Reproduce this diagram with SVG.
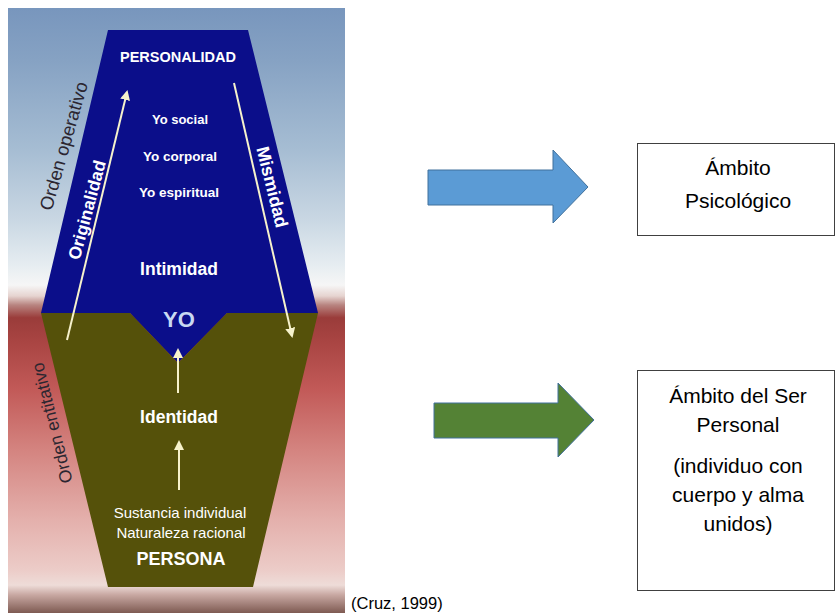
<svg xmlns="http://www.w3.org/2000/svg" width="838" height="613" viewBox="0 0 838 613">
<defs>
<linearGradient id="bg" x1="0" y1="8" x2="0" y2="613" gradientUnits="userSpaceOnUse">
<stop offset="0" stop-color="#7896bd"/>
<stop offset="0.086" stop-color="#86a2c3"/>
<stop offset="0.235" stop-color="#a6bdd3"/>
<stop offset="0.35" stop-color="#c9d7e3"/>
<stop offset="0.425" stop-color="#e6edf1"/>
<stop offset="0.458" stop-color="#f6f6f6"/>
<stop offset="0.476" stop-color="#e6d4d0"/>
<stop offset="0.491" stop-color="#b88480"/>
<stop offset="0.512" stop-color="#9a3c3a"/>
<stop offset="0.549" stop-color="#a84442"/>
<stop offset="0.631" stop-color="#c25a58"/>
<stop offset="0.731" stop-color="#d48480"/>
<stop offset="0.846" stop-color="#e4b0ac"/>
<stop offset="0.929" stop-color="#ecccc8"/>
<stop offset="0.954" stop-color="#eedcd8"/>
<stop offset="0.97" stop-color="#c8a8a2"/>
<stop offset="1" stop-color="#7e5a52"/>
</linearGradient>
<marker id="ah" viewBox="0 0 10 10" refX="8" refY="5" markerWidth="5" markerHeight="5" orient="auto" markerUnits="strokeWidth">
<path d="M0,0 L10,5 L0,10 z" fill="#f6f2cc"/>
</marker>
</defs>
<style>
.fig { font-family: "Liberation Sans", Arial, sans-serif; fill: #ffffff; text-anchor: middle; }
.b { font-weight: bold; }
.dark { fill: #2b2630; font-weight: normal; }
.lbl { font-family: "Liberation Sans", Arial, sans-serif; font-size: 21px; fill: #000000; text-anchor: middle; }
.box { fill: #ffffff; stroke: #404040; stroke-width: 1; }
.thin { stroke: #f6f2cc; stroke-width: 2; fill: none; marker-end: url(#ah); }
</style>

<g id="figura">
<rect x="8" y="8" width="337" height="605" fill="url(#bg)"/>
<polygon id="zona-operativa" points="108,30 248,30 318,313 227,313 178,363 130,313 41,313" fill="#0b0e8a"/>
<polygon id="zona-entitativa" points="41,313 130,313 178,363 227,313 318,313 253,587 108,587" fill="#55510a"/>
</g>

<g id="flechas-internas">
<line class="thin" x1="67" y1="340" x2="127" y2="92"/>
<line class="thin" x1="234" y1="83" x2="292" y2="336"/>
<line class="thin" x1="178" y1="393" x2="178" y2="350"/>
<line class="thin" x1="179" y1="490" x2="179" y2="442"/>
</g>

<g id="textos-figura">
<text class="fig b" x="178" y="62" font-size="14.5">PERSONALIDAD</text>
<text class="fig b" x="180" y="124" font-size="13">Yo social</text>
<text class="fig b" x="180" y="161" font-size="13.5">Yo corporal</text>
<text class="fig b" x="179" y="197" font-size="13.5">Yo espiritual</text>
<text class="fig b" x="179" y="275" font-size="17.5">Intimidad</text>
<text class="fig b" x="179" y="327" font-size="22" style="fill:#c8d8f2">YO</text>
<text class="fig b" x="179" y="423" font-size="17.5">Identidad</text>
<text class="fig" x="180" y="518" font-size="15">Sustancia individual</text>
<text class="fig" x="181" y="538" font-size="15">Naturaleza racional</text>
<text class="fig b" x="181" y="565" font-size="18">PERSONA</text>
<text class="fig dark" font-size="18.5" transform="translate(64,146) rotate(-74)" dy="6">Orden operativo</text>
<text class="fig b" font-size="17.5" transform="translate(87,210) rotate(-75)" dy="6">Originalidad</text>
<text class="fig b" font-size="18" transform="translate(272,187) rotate(76)" dy="6">Mismidad</text>
<text class="fig dark" font-size="17.5" transform="translate(52,423) rotate(-104)" dy="6">Orden entitativo</text>
</g>

<g id="conectores">
<path id="flecha-azul" d="M428,170 L553,170 L553,150 L588,187 L553,223 L553,205 L428,205 Z" fill="#5b9bd5" stroke="#41719c" stroke-width="1"/>
<path id="flecha-verde" d="M434,403 L558,403 L558,383 L594,420 L558,457 L558,438 L434,438 Z" fill="#548235" stroke="#41719c" stroke-width="1"/>
</g>

<g id="ambito-psicologico">
<rect class="box" x="637.5" y="143.5" width="197" height="92"/>
<text class="lbl" x="738" y="175">Ámbito</text>
<text class="lbl" x="738" y="208">Psicológico</text>
</g>

<g id="ambito-ser-personal">
<rect class="box" x="637.5" y="370.5" width="197" height="220"/>
<text class="lbl" x="738" y="403">Ámbito del Ser</text>
<text class="lbl" x="738" y="432">Personal</text>
<text class="lbl" x="738" y="473">(individuo con</text>
<text class="lbl" x="738" y="502">cuerpo y alma</text>
<text class="lbl" x="738" y="531">unidos)</text>
</g>

<text id="cita" x="351" y="609" font-family="Liberation Sans, Arial, sans-serif" font-size="16.5" fill="#000000">(Cruz, 1999)</text>
</svg>
